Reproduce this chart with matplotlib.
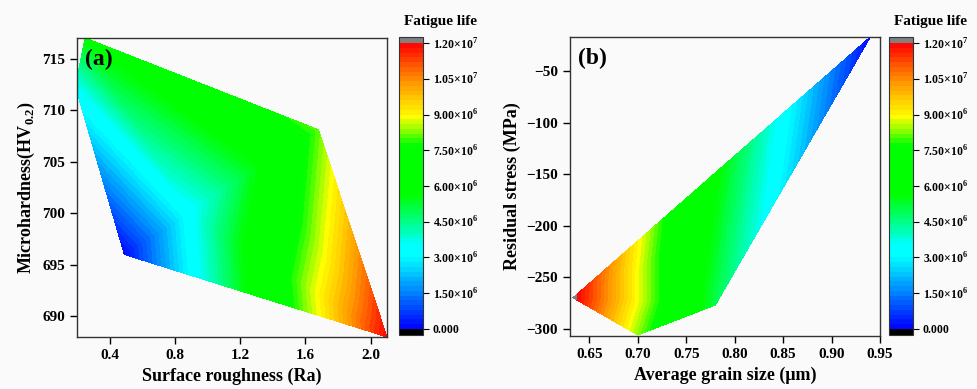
import numpy as np
import matplotlib
matplotlib.use('Agg')
import matplotlib.pyplot as plt
import matplotlib.tri as mtri
from matplotlib.colors import LinearSegmentedColormap

plt.rcParams['font.family'] = 'Liberation Serif'
plt.rcParams['font.weight'] = 'bold'
plt.rcParams['mathtext.fontset'] = 'custom'
plt.rcParams['mathtext.rm'] = 'Liberation Serif:bold'
plt.rcParams['mathtext.bf'] = 'Liberation Serif:bold'

## Data (a): surface roughness, microhardness, fatigue life
roughA = [0.25, 0.19, 0.49, 0.89, 1.31, 1.68, 2.10]
hardA = [717.0, 712.3, 696.0, 700.0, 704.5, 708.1, 688.0]
lifeA = [5.7e6, 3.5e6, 0.1e6, 3.3e6, 5.6e6, 8.1e6, 1.195e7]
triA = [[0, 1, 3], [1, 2, 3], [0, 3, 4], [0, 4, 5], [2, 6, 3], [3, 6, 4], [4, 6, 5]]

## Data (b): grain size, residual stress, fatigue life
grainB = [0.633, 0.700, 0.722, 0.722, 0.780, 0.940, 0.7295]
stressB = [-270.0, -306.0, -273.0, -230.0, -277.0, -17.0, -190.4]
lifeB = [1.22e7, 8.3e6, 7.75e6, 7.75e6, 5.0e6, 0.1e6, 7.6e6]
triB = [[0, 1, 2], [0, 2, 3], [0, 3, 6], [1, 4, 2], [2, 4, 3], [3, 4, 6], [6, 4, 5]]

cbTicks = [0, 1.5e6, 3.0e6, 4.5e6, 6.0e6, 7.5e6, 9.0e6, 1.05e7, 1.2e7]
cbLabels = ['0.000', '1.50×10^6', '3.00×10^6', '4.50×10^6', '6.00×10^6',
            '7.50×10^6', '9.00×10^6', '1.05×10^7', '1.20×10^7']

# colour map like the Origin one
anchors = [(0.0, (0, 0, 1)), (0.25, (0, 1, 1)), (0.29, (0, 1, 1)), (0.47, (0, 1, 0)),
           (0.642, (0, 1, 0)), (0.742, (1, 1, 0)), (0.875, (1, 0.55, 0)), (1.0, (1, 0, 0))]
cmap = LinearSegmentedColormap.from_list('life', anchors).with_extremes(under='black', over='#808080')
levels = np.linspace(0, 1.2e7, 61)

fig = plt.figure(figsize=(9.77, 3.89), dpi=100)
fig.patch.set_facecolor('#fafafa')
ax1 = fig.add_axes([77/977, 52/389, 310/977, 299/389])
cax1 = fig.add_axes([399/977, 54/389, 24/977, 298/389])
ax2 = fig.add_axes([570/977, 53/389, 310/977, 299/389])
cax2 = fig.add_axes([889/977, 54/389, 24/977, 298/389])


def fmt(s):
    if '^' not in s:
        return s
    m, e = s.split('^')
    return r'$\mathbf{%s}^{\mathbf{%s}}$' % (m.replace('×', r'{\times}'), e)


def panel(ax, cax, x, y, z, tris, label):
    ax.set_facecolor('#fafafa')
    t = mtri.Triangulation(x, y, tris)
    cs = ax.tricontourf(t, z, levels=levels, cmap=cmap, extend='both')
    cb = fig.colorbar(cs, cax=cax, ticks=cbTicks, extendfrac=0.021, extendrect=True)
    cb.set_ticklabels([fmt(s) for s in cbLabels])
    cb.ax.tick_params(labelsize=8.5, length=4, width=0.8, direction='out', pad=3)
    cb.outline.set_linewidth(0.8)
    cb.outline.set_edgecolor('#333333')
    for sp in ax.spines.values():
        sp.set_linewidth(1.0)
        sp.set_color('#333333')
    ax.tick_params(labelsize=11, length=5, width=1, direction='out', top=False, right=False)
    ax.text(0.026, 0.962, label, transform=ax.transAxes, fontsize=17,
            fontweight='bold', va='top', ha='left')
    return cs


panel(ax1, cax1, roughA, hardA, lifeA, triA, '(a)')
ax1.set_xlim(0.2, 2.1)
ax1.set_ylim(688.0, 717.0)
ax1.set_xticks([0.4, 0.8, 1.2, 1.6, 2.0])
ax1.set_xticklabels(['0.4', '0.8', '1.2', '1.6', '2.0'])
ax1.set_yticks([690, 695, 700, 705, 710, 715])
ax1.set_xlabel('Surface roughness (Ra)', fontsize=13, fontweight='bold')
ax1.set_ylabel(r'Microhardness(HV$_{\mathbf{0.2}}$)', fontsize=13, fontweight='bold')

panel(ax2, cax2, grainB, stressB, lifeB, triB, '(b)')
ax2.set_xlim(0.63, 0.95)
ax2.set_ylim(-307, -17)
ax2.set_xticks([0.65, 0.70, 0.75, 0.80, 0.85, 0.90, 0.95])
ax2.set_xticklabels(['0.65', '0.70', '0.75', '0.80', '0.85', '0.90', '0.95'])
ax2.set_yticks([-300, -250, -200, -150, -100, -50])
ax2.set_xlabel('Average grain size (μm)', fontsize=13, fontweight='bold')
ax2.set_ylabel('Residual stress (MPa)', fontsize=13, fontweight='bold')

fig.text(440/977, 1 - 22/389, 'Fatigue life', fontsize=11, fontweight='bold', ha='center', va='center')
fig.text(931/977, 1 - 22/389, 'Fatigue life', fontsize=11, fontweight='bold', ha='center', va='center')

fig.savefig('out.png', dpi=100, facecolor=fig.get_facecolor())
